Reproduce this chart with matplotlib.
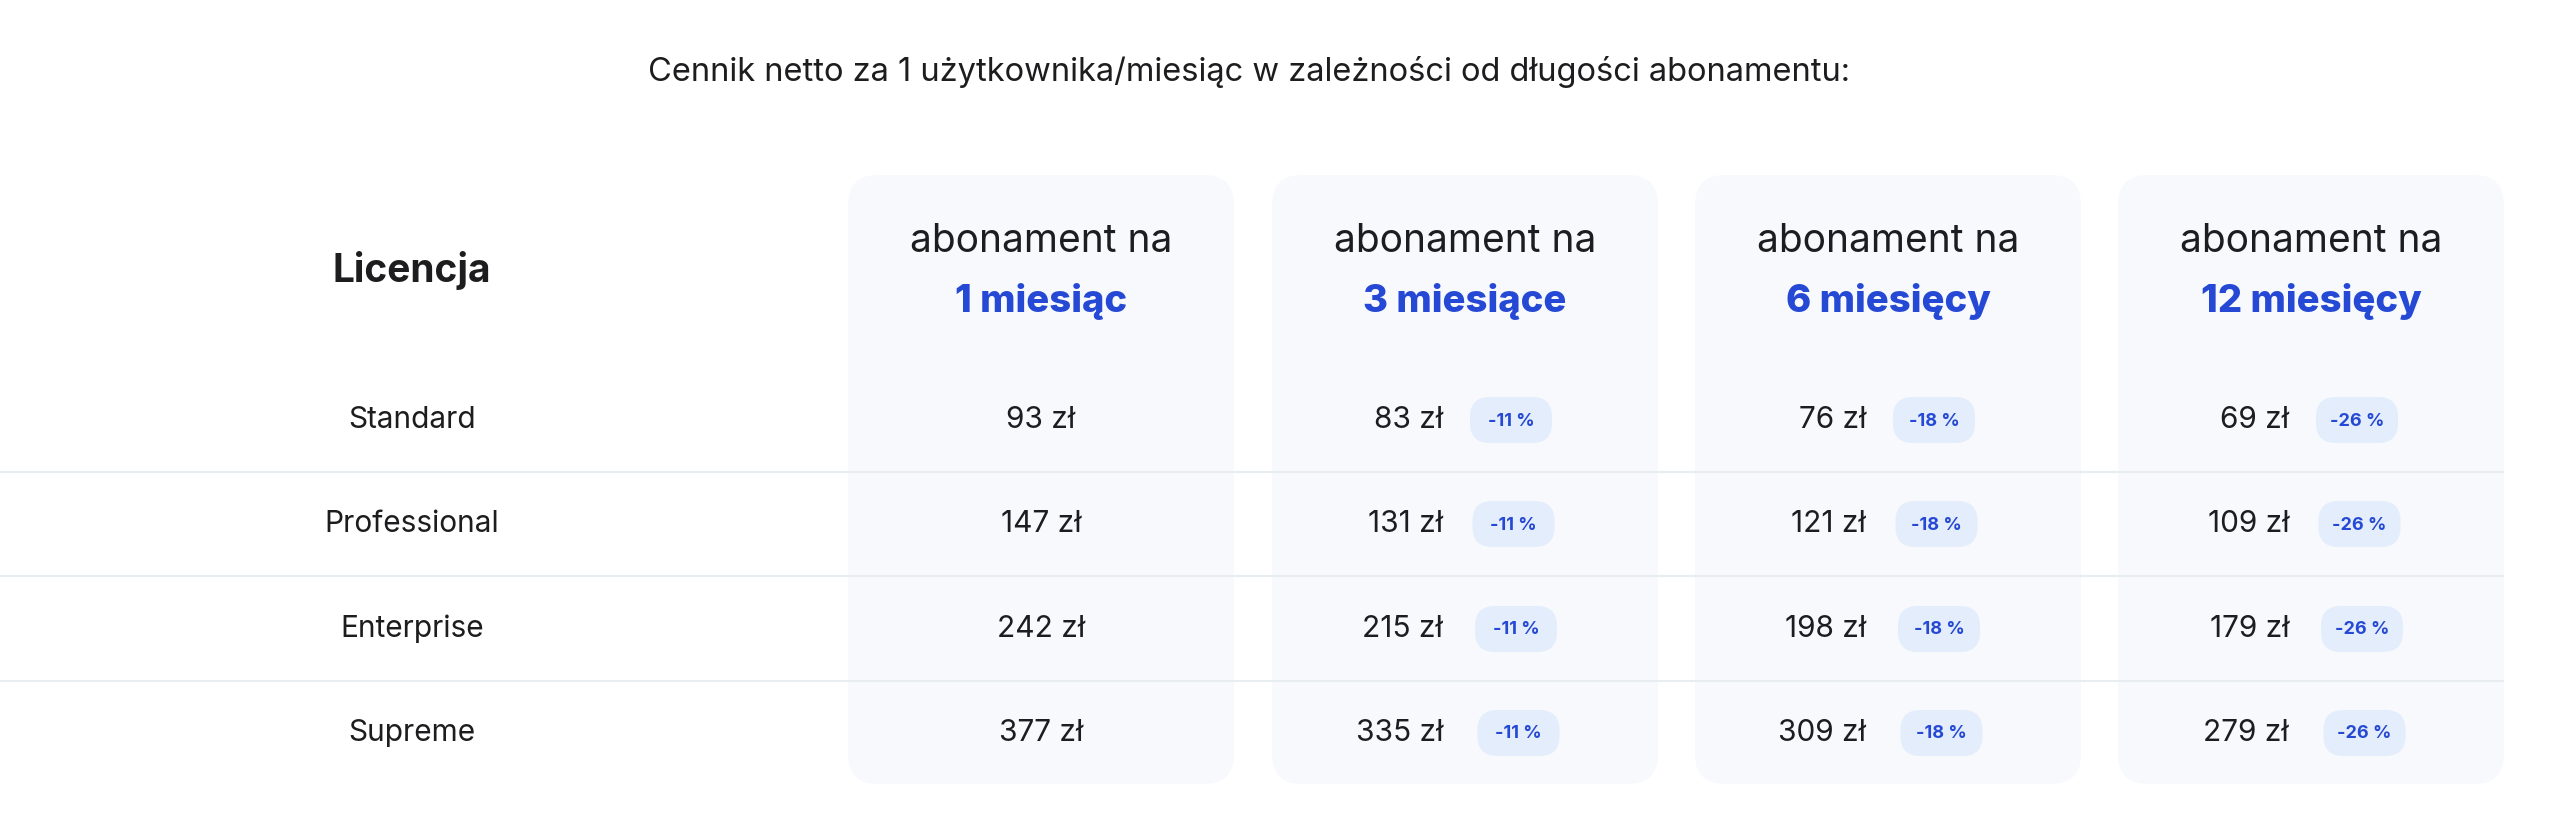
import matplotlib.pyplot as plt
from matplotlib.patches import FancyBboxPatch

plt.rcParams['font.family'] = ['Inter', 'DejaVu Sans']

title = 'Cennik netto za 1 użytkownika/miesiąc w zależności od długości abonamentu:'
licenses = ['Standard', 'Professional', 'Enterprise', 'Supreme']
periods = ['1 miesiąc', '3 miesiące', '6 miesięcy', '12 miesięcy']
prices = [
    [93, 147, 242, 377],
    [83, 131, 215, 335],
    [76, 121, 198, 309],
    [69, 109, 179, 279],
]
discounts = ['', '-11 %', '-18 %', '-26 %']

BLUE = '#2549d4'
DARK = '#1d1d1f'

fig = plt.figure(figsize=(25.6, 8.39), dpi=100)
ax = fig.add_axes([0, 0, 1, 1])
ax.set_xlim(0, 2560)
ax.set_ylim(839, 0)
ax.axis('off')

ax.text(1249, 72, title, ha='center', va='center', fontsize=23.5, color=DARK)

card_x = [848, 1272, 1695, 2118]
card_w = 386
row_y = [420, 524, 629, 733]

# cards
for x in card_x:
    ax.add_patch(FancyBboxPatch((x + 30, 175 + 30), card_w - 60, 609 - 60,
                                boxstyle='round,pad=30', fc='#f7f9fc', ec='none', zorder=1))

# row separators
for y in [472, 576, 681]:
    ax.plot([0, 2503], [y, y], color='#e8edf2', lw=1.5, zorder=2)

ax.text(412, 271, 'Licencja', ha='center', va='center', fontsize=28, fontweight='bold', color=DARK)
for name, y in zip(licenses, row_y):
    ax.text(412, y, name, ha='center', va='center', fontsize=21.5, color=DARK)

for j, (x, period) in enumerate(zip(card_x, periods)):
    cx = x + card_w / 2
    ax.text(cx, 242, 'abonament na', ha='center', va='center', fontsize=28, color=DARK)
    ax.text(cx, 302, period, ha='center', va='center', fontsize=27.5, fontweight='heavy', color=BLUE)
    for i, y in enumerate(row_y):
        label = f'{prices[j][i]} zł'
        if not discounts[j]:
            ax.text(cx, y, label, ha='center', va='center', fontsize=21.5, color=DARK, zorder=3)
        else:
            ax.text(cx - 22, y, label, ha='right', va='center', fontsize=21.5, color=DARK, zorder=3)
            bc = cx + 46 + i * 2.5
            ax.add_patch(FancyBboxPatch((bc - 21, y - 3), 42, 6,
                                        boxstyle='round,pad=20', fc='#e4edfb', ec='none', zorder=3))
            ax.text(bc, y + 1, discounts[j], ha='center', va='center', fontsize=13,
                    fontweight='bold', color=BLUE, zorder=4)

fig.savefig('out.png', dpi=100, facecolor='white')
